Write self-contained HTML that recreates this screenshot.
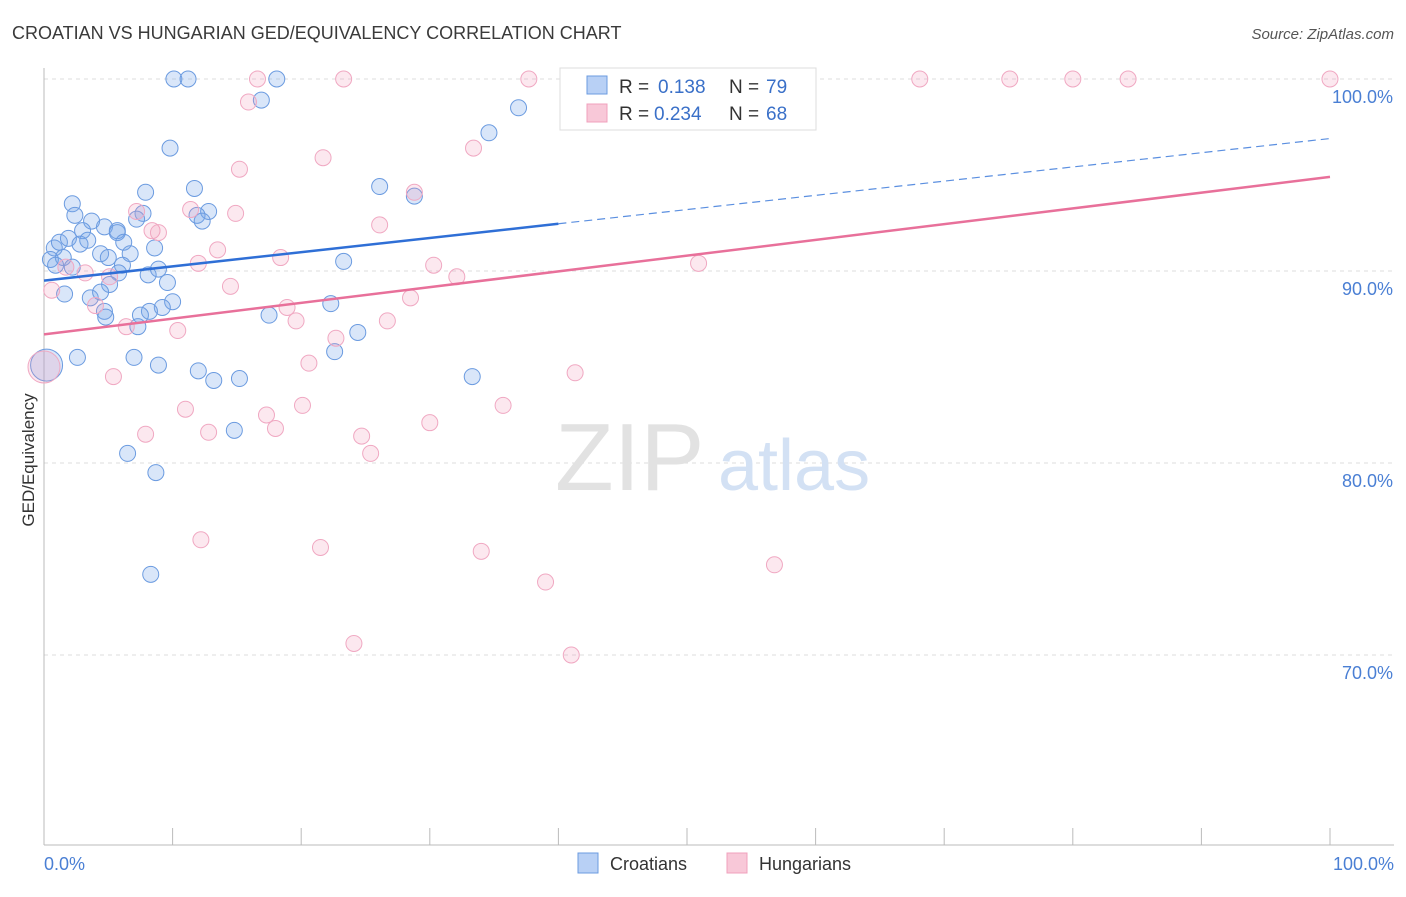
<!DOCTYPE html>
<html><head><meta charset="utf-8"><style>
body{margin:0;background:#fff;font-family:"Liberation Sans",sans-serif}
svg text{font-family:"Liberation Sans",sans-serif}
</style></head><body>
<svg id="chart" width="1406" height="892" xmlns="http://www.w3.org/2000/svg">
<text x="12" y="39" font-size="18" fill="#3a3a3a">CROATIAN VS HUNGARIAN GED/EQUIVALENCY CORRELATION CHART</text>
<text x="1394" y="39" font-size="15" fill="#555" text-anchor="end" font-style="italic">Source: ZipAtlas.com</text>
<g id="grid"></g>
<text x="555" y="490" font-size="96" fill="#e2e2e2" font-family="Liberation Serif">ZIP</text>
<text x="718" y="490" font-size="72" fill="#d3e1f4">atlas</text>
<g id="marks"></g>
<text x="34" y="460" font-size="17" fill="#333" text-anchor="middle" transform="rotate(-90 34 460)">GED/Equivalency</text>
<text x="44" y="870" font-size="18" fill="#4a7fd4">0.0%</text>
<text x="1394" y="870" font-size="18" fill="#4a7fd4" text-anchor="end">100.0%</text>
<g>
<rect x="560" y="68" width="256" height="62" fill="#fff" stroke="#ddd"/>
<rect x="587" y="76" width="20" height="18" fill="#b8d0f5" stroke="#6b9be0"/>
<text x="619" y="93" font-size="19" fill="#333">R = </text><text x="658" y="93" font-size="19" fill="#3a70c8">0.138</text>
<text x="729" y="93" font-size="19" fill="#333">N = </text><text x="766" y="93" font-size="19" fill="#3a70c8">79</text>
<rect x="587" y="104" width="20" height="18" fill="#f8c8d8" stroke="#f0a0bc"/>
<text x="619" y="120" font-size="19" fill="#333">R = </text><text x="654" y="120" font-size="19" fill="#3a70c8">0.234</text>
<text x="729" y="120" font-size="19" fill="#333">N = </text><text x="766" y="120" font-size="19" fill="#3a70c8">68</text>
</g>
<g>
<rect x="578" y="853" width="20" height="20" fill="#b8d0f5" stroke="#6b9be0"/>
<text x="610" y="870" font-size="18" fill="#333">Croatians</text>
<rect x="727" y="853" width="20" height="20" fill="#f8c8d8" stroke="#f0a0bc"/>
<text x="759" y="870" font-size="18" fill="#333">Hungarians</text>
</g>
</svg>
<script>
const yTicks=[100,90,80,70];
const xTicks=[0,10,20,30,40,50,60,70,80,90,100];
const blueX=[10.1,11.2,18.1,16.9,36.9,34.6,9.8,26.1,28.8,11.7,7.9,2.2,12.8,2.4,7.7,11.9,12.3,3.7,4.7,3.0,5.7,7.2,5.7,0.8,1.2,1.9,2.8,3.4,6.2,8.6,4.4,6.7,5.0,0.5,1.5,0.9,2.2,6.1,5.8,8.9,8.1,23.3,9.6,5.1,1.6,3.6,4.4,10.0,9.2,8.2,4.7,7.5,4.8,7.3,17.5,22.3,24.4,22.6,2.6,7.0,8.9,12.0,13.2,15.2,33.3,14.8,6.5,8.7,8.3];
const blueY=[100,100,100,98.9,98.5,97.2,96.4,94.4,93.9,94.3,94.1,93.5,93.1,92.9,93.0,92.9,92.6,92.6,92.3,92.1,92.1,92.7,92.0,91.2,91.5,91.7,91.4,91.6,91.5,91.2,90.9,90.9,90.7,90.6,90.7,90.3,90.2,90.3,89.9,90.1,89.8,90.5,89.4,89.3,88.8,88.6,88.9,88.4,88.1,87.9,87.9,87.7,87.6,87.1,87.7,88.3,86.8,85.8,85.5,85.5,85.1,84.8,84.3,84.4,84.5,81.7,80.5,79.5,74.2];
const pinkX=[16.6,23.3,37.7,53.9,68.1,75.1,80.0,84.3,100,15.9,33.4,21.7,15.2,28.8,11.4,14.9,26.1,7.2,8.4,8.9,13.5,18.4,12.0,30.3,32.1,50.9,3.2,5.1,1.7,0.6,4.0,14.5,18.9,19.6,28.5,6.4,10.4,26.7,22.7,20.6,5.4,41.3,11.0,17.3,20.1,35.7,30.0,18.0,7.9,12.8,24.7,25.4,12.2,21.5,34.0,39.0,56.8,24.1,41.0];
const pinkY=[100,100,100,100,100,100,100,100,100,98.8,96.4,95.9,95.3,94.1,93.2,93.0,92.4,93.1,92.1,92.0,91.1,90.7,90.4,90.3,89.7,90.4,89.9,89.7,90.2,89.0,88.2,89.2,88.1,87.4,88.6,87.1,86.9,87.4,86.5,85.2,84.5,84.7,82.8,82.5,83.0,83.0,82.1,81.8,81.5,81.6,81.4,80.5,76.0,75.6,75.4,73.8,74.7,70.6,70.0];
const blueTrend=[89.5,96.9];
const pinkTrend=[86.7,94.9];
const bigBlue=[0.2,85.1], bigPink=[0,85.0];
const sx=v=>44+v*12.86, sy=v=>79+(100-v)*19.2;
const NS="http://www.w3.org/2000/svg";
const grid=document.getElementById('grid'), marks=document.getElementById('marks'), svg=document.getElementById('chart');
function mk(tag,attrs,parent){const e=document.createElementNS(NS,tag);for(const k in attrs)e.setAttribute(k,attrs[k]);parent.appendChild(e);return e;}
yTicks.forEach(t=>{
 const l=mk('line',{x1:44,x2:1394,y1:sy(t),y2:sy(t),stroke:'#ddd','stroke-dasharray':'4,4'},grid);
 
 
 const tx=mk('text',{x:1393,y:sy(t)+24,'font-size':18,fill:'#4a7fd4','text-anchor':'end'},svg);
 tx.textContent=t.toFixed(1)+'%';
 
 
});
const ax=mk('line',{x1:44,x2:1394,y1:845,y2:845,stroke:'#bbb'},grid);


const ay=mk('line',{x1:44,x2:44,y1:68,y2:845,stroke:'#bbb'},grid);


xTicks.forEach(t=>{
 const l=mk('line',{x1:sx(t),x2:sx(t),y1:828,y2:845,stroke:'#bbb'},grid);
 
 
});
function dots(X,Y,fill,stroke,name){X.forEach((x,i)=>{
 const c=mk('circle',{cx:sx(x),cy:sy(Y[i]),r:8,fill:fill,stroke:stroke,'stroke-width':1},marks);
 
 
});}
dots(blueX,blueY,'rgba(120,165,235,0.28)','#6b9be0','croatian-point');
dots(pinkX,pinkY,'rgba(240,150,180,0.22)','#f0a8c2','hungarian-point');
const bb=mk('circle',{cx:sx(bigBlue[0]),cy:sy(bigBlue[1]),r:16,fill:'rgba(120,165,235,0.28)',stroke:'#6b9be0'},marks);


const bp=mk('circle',{cx:sx(bigPink[0]),cy:sy(bigPink[1]),r:16,fill:'rgba(240,150,180,0.22)',stroke:'#f0a8c2'},marks);


const by=x=>blueTrend[0]+(blueTrend[1]-blueTrend[0])*x/100;
const t1=mk('line',{x1:sx(0),y1:sy(by(0)),x2:sx(40),y2:sy(by(40)),stroke:'#2f6fd6','stroke-width':2.5},marks);


const t2=mk('line',{x1:sx(40),y1:sy(by(40)),x2:sx(100),y2:sy(by(100)),stroke:'#5b8fe0','stroke-width':1.2,'stroke-dasharray':'8,5'},marks);


const t3=mk('line',{x1:sx(0),y1:sy(pinkTrend[0]),x2:sx(100),y2:sy(pinkTrend[1]),stroke:'#e8709a','stroke-width':2.5},marks);


</script>
</body></html>
